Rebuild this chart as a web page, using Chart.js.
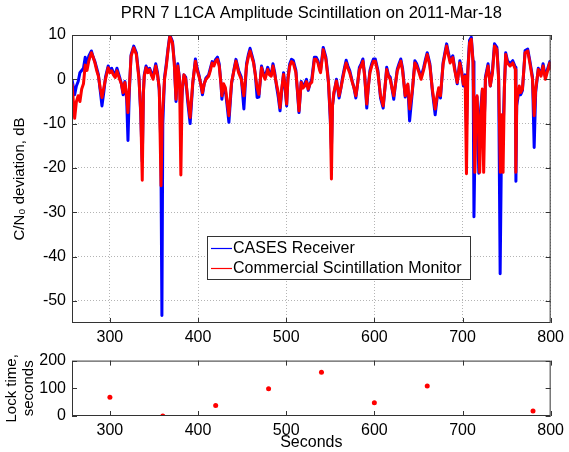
<!DOCTYPE html>
<html>
<head>
<meta charset="utf-8">
<script src="https://cdn.jsdelivr.net/npm/chart.js@4.4.0/dist/chart.umd.min.js"></script>
<style>
  html, body { margin: 0; padding: 0; background: #fff; }
  #wrap { position: relative; width: 569px; height: 452px; }
  canvas { position: absolute; left: 0; }
</style>
</head>
<body>
<div id="wrap">
  <canvas id="amp" style="top:0" width="569" height="345"></canvas>
  <canvas id="lock" style="top:345px" width="569" height="107"></canvas>
</div>
<script>
// Commercial monitor (red), seconds / dB
var commT = [257,260,262,264,266,268,270,272,274,276,279,281,283,285,287,289,291,293,295,298,300,302,304,306,308,311,313,315,317,319,320.5,322,324,327,330,333,335,336.7,338,339,341,343,345,347,349,352,354,356,358,359.5,362,364,366,368,371,373,375,377,379,380.5,382,384,386,388,391,394,397,399,401,403,405,407,409,412,414,416,418,420,422,424,426,427,429,431,433,435,438,441,443,446,449,452,455,457,459,461,463,465,467,469,472,474,476,479,481,483,485,487,489,491,493,495,497,499,500.5,502,504,506,508,511,513,514.5,517,519,521,523,525,527,529,532,534,536,538,539,542,545,547,548,550,551.3,552.5,554,557,560,562,564,566,568,570,572,575,577,579,581,583,585,587,589,591.4,593,595,597,599,601,604,607,610,612,614,616,618,620,622,624,626,628,630,632,633,635,637,638,640,643,646,648,650,653,656,658,660,663,666,669,671,673,675,678,680,682,684,686,689,691,694,697,699,701,703,704.5,706,708,710,712,714,715.5,716.5,718,719.5,721,722.5,724,725.5,726,729,731.5,734,736.3,739,741,743,744.5,746,747.5,749,751,754,757,760,760.5,761.5,764.4,766,768,771,774,776.4,779.4,781.3,783,786,789,791.4,794,796,799,800];
var commDb = [-1,-8.8,-5,-3.7,-5,-2.2,-1,3.2,2,4.1,6,5,3.7,2,0.7,-2,-4.1,-2,0,2.6,1.5,1.9,1,0.4,1.9,0,-1,-3,-0.7,-3.7,-7.5,-2,5.2,7.1,5.6,0,-7.5,-22.8,-3,0.7,2.6,1.5,2.2,1,0,3,1,-1.9,-24,-8,0,3,6.7,9.7,8.2,3.7,-4.5,3,0,-21.6,-2.2,1,0,-3.7,-8.6,-0.7,4.1,2,0.7,-1,-3,-1,0,0.7,2,3.7,3,4.1,4.5,3,-1,-3.7,-1,-1.9,-5,-8.2,-0.7,2.2,4.1,1.5,0,-3.7,3,5,6.4,5,3.7,1,-1.9,-3.4,2.6,1,0,2.2,1,0.7,3,1,-1.1,-3,-6.4,-2,1.1,-2,-5.6,0,3,4,3.7,1.5,-3,-7.1,-0.7,-2,-1.5,-0.5,-2.2,-1,-0.7,4.5,4.5,3.7,2,1.5,6.7,4.5,1,-0.7,-8.2,-22.5,-6,-3,-0.4,-3.7,-2,0,2,3.7,2.5,1.5,-0.7,-2,-3.7,-1,2.2,3,4.1,0.7,-5.6,-2,1.5,3,4.1,4.1,1.5,-3.7,-6,-2,2.2,0.7,0,-2,-3.7,-1,1.9,3,4.1,2,0,-3.7,-1.5,-1.1,-6.7,-2.6,3.7,3,1.9,0,2.2,4,5.6,3,-2.6,-6.7,-4,-1.9,-3.7,3.4,5.5,7.5,5.5,3.7,4.9,2.2,-0.7,3.7,1.5,-1.1,0.7,-21.3,1.5,8.2,9,3.7,-21,-5,-3.7,-10,-21,-8,-2.2,-21,-6,0,3,-1.5,1.5,7.5,6.7,0,-21,-8,-21,-2,5.6,3.7,3,3.7,2.2,-21,-5,-1.5,-3,-2.2,6,6.4,3.7,0,-8.2,-2.2,2.2,0.7,3,0,1.5,3.7,2];

// CASES receiver (blue), seconds / dB
var casesT = [257,260,262,264,266,268,270,272,274,276,279,281,283,285,287,289,291,293,295,298,300,302,304,306,308,311,313,315,317,319,320.5,322,324,327,330,333,335,336.7,338,339,341,343,345,347,349,352,354,356,357.8,359,360,362,364,366,368,371,373,375,377,379,380.5,382,384,386,388,391,394,397,399,401,403,405,407,409,412,414,416,418,420,422,424,426,427,429,431,433,435,438,441,443,446,449,452,455,457,459,461,463,465,467,469,472,474,476,479,481,483,485,487,489,491,493,495,497,499,500.5,502,504,506,508,511,513,514.5,517,519,521,523,525,527,529,532,534,536,538,539,542,545,547,548,550,551.3,552.5,554,557,560,562,564,566,568,570,572,575,577,579,581,583,585,587,589,591.4,593,595,597,599,601,604,607,610,612,614,616,618,620,622,624,626,628,630,632,633,635,637,638,640,643,646,648,650,653,656,658,660,663,666,669,671,673,675,678,680,682,684,686,689,691,694,697,699,701,703,704.5,706,708,710,712,713,714.5,716.5,718.5,720,722.5,724,725.5,726,729,731.5,734,736.3,739,741,742.7,744.5,746,747.5,749,751,754,757,760,760.6,761.5,764.4,766,768,771,774,776.4,779.4,781.3,783,786,789,791.4,794,796,799,800];
var casesDb = [0,-3.5,-1.5,-0.5,1.5,2,2.5,5,3,5.2,6.4,5,4,2.5,1,-2.5,-6,-3,0.5,3,2,2.5,1.5,1,2.5,0.5,-1,-3.5,-0.5,-4.5,-13.8,-3,5.5,7.5,6,0.5,-8,-18.6,-3,1,3,2,2.5,1.5,0.5,3.5,1.5,-2.5,-15,-53.3,-10,0.5,3.5,7,10,8.5,4,-5,3.5,0,-8,-3,1,0.5,-4.5,-10,-1,4.6,2.5,1,-1,-3.5,-1,0.3,1,2.5,4,3.5,4.5,5,3.5,-1,-4.5,-1.5,-2.5,-6,-9.7,-1,2.5,4.5,2,0.5,-6.7,3.5,5.5,7,5.5,4,1,-4.1,-4,3,1.5,0.5,2.7,1.5,1,3.5,1.5,-1.5,-4,-7.1,-2.5,1.5,-2.5,-6,0.5,3.5,4.5,4.3,2,-3.5,-7.5,-0.5,-1.5,-1,0,-2.5,-1,0,5,5,4.2,2.5,2,7.2,5,1.5,-1,-9,-15.7,-6,-3.5,0,-4.2,-2,0.5,2.5,4.3,3,2,-0.5,-2,-4.2,-1,2.7,3.5,4.6,1,-6.5,-2,2,3.5,4.6,4.6,2,-4.2,-6.5,-2,2.7,1,0.5,-2,-4.5,-1,2.3,3.5,4.6,2.5,0.5,-4,-1.5,-1.5,-9.4,-3,4.2,3.5,2.3,0.5,2.7,4.5,6,3.5,-3,-8,-4.5,-2.3,-4.2,3.8,6,8,6,4.2,5.3,2.7,-1,4.2,2,-1.5,1,-11,2,8.8,9.5,4,-31,-10,-4,-21.2,-8,-2.5,-12,-5,0.5,3.5,-1.5,2,8,7.2,0.5,-43.9,-10,-12,-2,6,4.2,3.5,4.2,2.7,-23,-6,-2,-3.5,-2.5,6.5,6.8,4.2,0.5,-15.4,-3,2.5,1,3.5,0.5,2,4,2.5];

// Lock time samples
var lockT = [300, 360, 420, 480, 540, 600, 660, 780];
var lockSec = [68, 0, 38, 98, 158, 48, 108, 18];

var xTicks = [300, 400, 500, 600, 700, 800];
var ampTicks = [-50, -40, -30, -20, -10, 0, 10];
var lockTicks = [0, 100, 200];

var FONT = "'Liberation Sans', Arial, Helvetica, sans-serif";
Chart.defaults.font.family = FONT;
Chart.defaults.color = '#000';

function pts(t, v) {
  var out = [];
  for (var i = 0; i < t.length; i++) out.push({x: t[i], y: v[i]});
  return out;
}
function setTicks(list) {
  return function (scale) { scale.ticks = list.map(function (v) { return {value: v}; }); };
}

// MATLAB style box with small inward ticks
var boxPlugin = {
  id: 'box',
  afterDraw: function (chart) {
    var a = chart.chartArea, ctx = chart.ctx;
    var xs = chart.scales.x, ys = chart.scales.y;
    ctx.save();
    ctx.strokeStyle = '#333';
    ctx.lineWidth = 1;
    ctx.strokeRect(a.left + 0.5, a.top + 0.5, a.right - a.left - 1, a.bottom - a.top - 1);
    ctx.beginPath();
    xs.ticks.forEach(function (t) {
      var px = Math.round(xs.getPixelForValue(t.value)) + 0.5;
      ctx.moveTo(px, a.bottom); ctx.lineTo(px, a.bottom - 5);
      ctx.moveTo(px, a.top); ctx.lineTo(px, a.top + 5);
    });
    ys.ticks.forEach(function (t) {
      var py = Math.round(ys.getPixelForValue(t.value)) + 0.5;
      ctx.moveTo(a.left, py); ctx.lineTo(a.left + 5, py);
      ctx.moveTo(a.right, py); ctx.lineTo(a.right - 5, py);
    });
    ctx.stroke();
    ctx.restore();
  }
};

// Legend box inside the plot
var legendPlugin = {
  id: 'boxLegend',
  afterDraw: function (chart) {
    var ctx = chart.ctx;
    var x0 = 207, y0 = 236, w = 263, h = 43;
    ctx.save();
    ctx.fillStyle = '#fff';
    ctx.fillRect(x0, y0, w, h);
    ctx.strokeStyle = '#333';
    ctx.lineWidth = 1;
    ctx.strokeRect(x0 + 0.5, y0 + 0.5, w, h);
    ctx.font = '16px ' + FONT;
    ctx.textBaseline = 'middle';
    chart.data.datasets.forEach(function (ds, i) {
      var y = y0 + 12 + i * 20;
      ctx.strokeStyle = ds.borderColor;
      ctx.lineWidth = 1.2;
      ctx.beginPath();
      ctx.moveTo(x0 + 4, y + 0.5);
      ctx.lineTo(x0 + 25, y + 0.5);
      ctx.stroke();
      ctx.fillStyle = '#000';
      ctx.fillText(ds.label, x0 + 26, y + 1);
    });
    ctx.restore();
  }
};

var gridOpts = {color: '#b4b4b4', lineWidth: 1, drawTicks: false};

new Chart(document.getElementById('amp'), {
  type: 'line',
  data: {
    datasets: [
      {label: 'CASES Receiver', data: pts(casesT, casesDb), borderColor: '#0000ff', borderWidth: 3, order: 2},
      {label: 'Commercial Scintillation Monitor', data: pts(commT, commDb), borderColor: '#ff0000', borderWidth: 3, order: 1}
    ]
  },
  options: {
    responsive: false,
    animation: false,
    events: [],
    layout: {padding: {left: 0, right: 14, top: 0, bottom: 0}},
    elements: {point: {radius: 0}, line: {tension: 0, borderJoinStyle: 'round'}},
    plugins: {
      legend: {display: false},
      tooltip: {enabled: false},
      title: {
        display: true,
        fullSize: false,
        text: 'PRN 7 L1CA Amplitude Scintillation on 2011-Mar-18',
        font: {size: 16.5, weight: 'normal', lineHeight: 1.2},
        color: '#000',
        padding: {top: 4, bottom: 11.2}
      }
    },
    scales: {
      x: {
        type: 'linear', min: 257, max: 800,
        afterBuildTicks: setTicks(xTicks),
        afterFit: function (s) { s.height = 22; },
        grid: gridOpts,
        border: {dash: [1, 2], display: false},
        ticks: {font: {size: 16}, padding: 5, maxRotation: 0}
      },
      y: {
        min: -55, max: 10,
        afterBuildTicks: setTicks(ampTicks),
        afterFit: function (s) { s.width = 72; },
        grid: gridOpts,
        border: {dash: [1, 2], display: false},
        ticks: {font: {size: 16}, padding: 6},
        title: {display: true, text: 'C/N\u2080 deviation, dB', font: {size: 15}, padding: {top: 11, bottom: 0}}
      }
    }
  },
  plugins: [boxPlugin, legendPlugin]
});

new Chart(document.getElementById('lock'), {
  type: 'scatter',
  data: {
    datasets: [
      {label: 'Lock time', data: pts(lockT, lockSec), backgroundColor: '#ff0000', borderColor: '#ff0000', pointRadius: 2.5, borderWidth: 0}
    ]
  },
  options: {
    responsive: false,
    animation: false,
    events: [],
    layout: {padding: {left: 0, right: 14, top: 12, bottom: 0}},
    plugins: {legend: {display: false}, tooltip: {enabled: false}},
    scales: {
      x: {
        type: 'linear', min: 257, max: 800,
        afterBuildTicks: setTicks(xTicks),
        afterFit: function (s) { s.height = 36; },
        grid: {display: false, drawTicks: false},
        border: {display: false},
        ticks: {font: {size: 16}, padding: 5, maxRotation: 0},
        title: {display: true, text: 'Seconds', font: {size: 16}, padding: {top: 0, bottom: 0}}
      },
      y: {
        min: 0, max: 200,
        afterBuildTicks: setTicks(lockTicks),
        afterFit: function (s) { s.width = 72; },
        grid: {display: false, drawTicks: false},
        border: {display: false},
        ticks: {font: {size: 16}, padding: 6},
        title: {display: true, text: ['Lock time,', 'seconds'], font: {size: 15, lineHeight: 1.15}, padding: {top: 3, bottom: 0}}
      }
    }
  },
  plugins: [boxPlugin]
});
</script>
</body>
</html>
